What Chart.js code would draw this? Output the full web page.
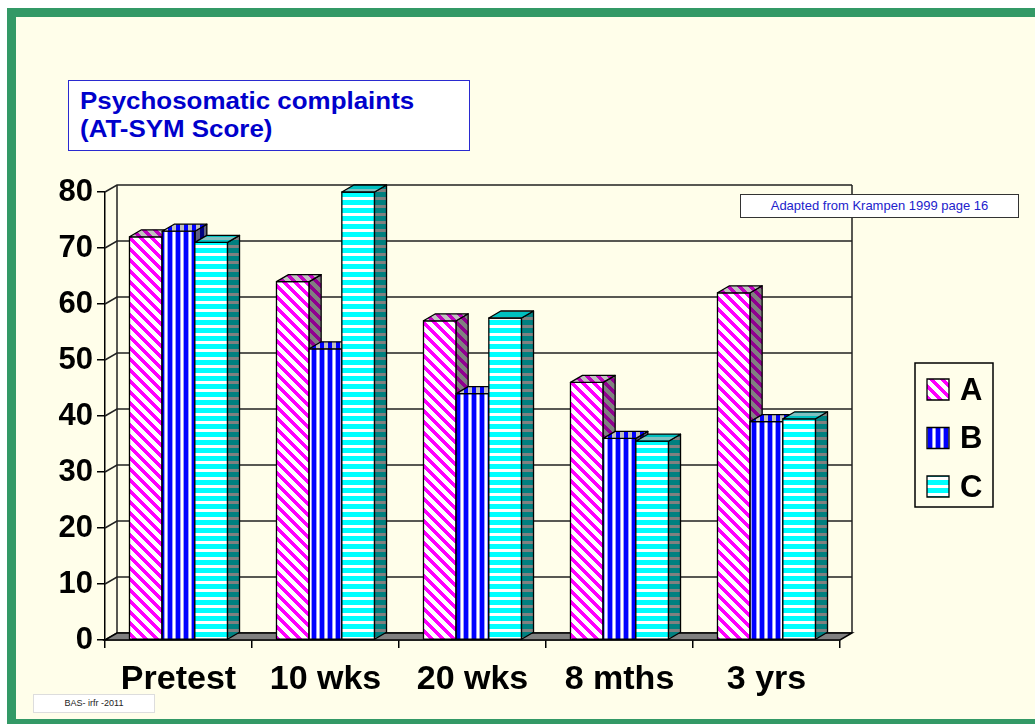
<!DOCTYPE html>
<html>
<head>
<meta charset="utf-8">
<script src="https://cdn.jsdelivr.net/npm/chart.js@4/dist/chart.umd.min.js"></script>
<style>
  html, body { margin: 0; padding: 0; background: #ffffff; overflow: hidden; }
  body { width: 1035px; height: 724px; position: relative; font-family: "Liberation Sans", Arial, sans-serif; }
  .slide {
    position: absolute; left: 7px; top: 8px; width: 1200px; height: 716px;
    box-sizing: border-box; border: solid #339966; border-width: 9px 9px 5px 9px;
    background: #fffeea;
  }
  #chart { position: absolute; left: 0; top: 0; }
  .title {
    position: absolute; left: 68px; top: 80px; width: 402px; height: 71px;
    box-sizing: border-box; border: 1.5px solid #2a2ad0; background: #ffffff;
    padding: 6px 0 0 11px;
  }
  .title span {
    display: inline-block; color: #0000cc; font-weight: bold; font-size: 24px; line-height: 28px;
    transform: scaleX(1.08); transform-origin: left top; white-space: nowrap;
  }
  .note {
    position: absolute; left: 740px; top: 194px; width: 279px; height: 24px;
    box-sizing: border-box; border: 1px solid #333; background: #ffffff;
    color: #2222cc; font-size: 13px; line-height: 22px; text-align: center;
  }
  .sign {
    position: absolute; left: 33px; top: 694px; width: 122px; height: 19px;
    box-sizing: border-box; border: 1px solid #ddd; background: #ffffff;
    color: #222; font-size: 9px; line-height: 17px; text-align: center;
  }
</style>
</head>
<body>
<div class="slide"></div>
<canvas id="chart" width="1035" height="724"></canvas>
<div class="title"><span>Psychosomatic complaints<br>(AT-SYM Score)</span></div>
<div class="note">Adapted from Krampen 1999 page 16</div>
<div class="sign">BAS- irfr -2011</div>
<script>
const categories = ['Pretest', '10 wks', '20 wks', '8 mths', '3 yrs'];
const seriesNames = ['A', 'B', 'C'];
const valuesA = [72, 64, 57, 46, 62];
const valuesB = [73, 52, 44, 36, 39];
const valuesC = [71, 80, 57.5, 35.5, 39.5];
const yTicks = [0, 10, 20, 30, 40, 50, 60, 70, 80];

const canvas = document.getElementById('chart');
const ctx = canvas.getContext('2d');

// depth offset of the 3d look
const DX = 12, DY = -7;

// stripe patterns
function makePattern(kind, fg, bg, alt) {
  const P = kind === 'diag' ? 11 : 8;
  const c = document.createElement('canvas');
  c.width = P; c.height = P;
  const g = c.getContext('2d');
  g.fillStyle = bg;
  g.fillRect(0, 0, P, P);
  for (let y = 0; y < P; y++) {
    for (let x = 0; x < P; x++) {
      let col = null;
      if (kind === 'diag') {
        const k = ((x - y) % P + P) % P;
        if (k < 5) col = fg;
      } else if (kind === 'vert') {
        const k = x % P;
        if (k < 4) col = fg;
        else if (alt && (k === 4 || k === 7)) col = alt;
      } else {
        const k = y % P;
        if (k < 5) col = fg;
      }
      if (col) { g.fillStyle = col; g.fillRect(x, y, 1, 1); }
    }
  }
  return ctx.createPattern(c, 'repeat');
}

const faces = [
  { front: makePattern('diag', '#ff00ff', '#ffffff'),
    side: makePattern('diag', '#900090', '#808080'),
    top: makePattern('diag', '#c000c0', '#c0c0c0') },
  { front: makePattern('vert', '#0000ff', '#ffffff', '#9999ff'),
    side: makePattern('vert', '#000080', '#606080'),
    top: makePattern('vert', '#0000ff', '#c0c0c0') },
  { front: makePattern('horiz', '#00ffff', '#ffffff'),
    side: makePattern('horiz', '#008080', '#808080'),
    top: makePattern('horiz', '#00c0c0', '#80c0c0') }
];

function poly(c, pts, fill) {
  c.beginPath();
  c.moveTo(pts[0][0], pts[0][1]);
  for (let i = 1; i < pts.length; i++) c.lineTo(pts[i][0], pts[i][1]);
  c.closePath();
  c.fillStyle = fill;
  c.fill();
  c.stroke();
}

const wallPlugin = {
  id: 'wall3d',
  beforeDatasetsDraw(chart) {
    const c = chart.ctx;
    const a = chart.chartArea;
    const ys = chart.scales.y;
    c.save();
    c.strokeStyle = '#222';
    c.lineWidth = 1.5;
    yTicks.forEach(v => {
      const y = ys.getPixelForValue(v);
      c.beginPath();
      c.moveTo(a.left, y);
      c.lineTo(a.left + DX, y + DY);
      c.lineTo(a.right + DX, y + DY);
      c.stroke();
    });
    c.beginPath();
    c.moveTo(a.left + DX, a.top + DY);
    c.lineTo(a.left + DX, a.bottom + DY);
    c.moveTo(a.right + DX, a.top + DY);
    c.lineTo(a.right + DX, a.bottom + DY);
    c.stroke();
    // floor
    c.strokeStyle = '#000';
    poly(c, [[a.left, a.bottom], [a.right, a.bottom], [a.right + DX, a.bottom + DY], [a.left + DX, a.bottom + DY]], '#808080');
    c.restore();
  },
  afterDatasetsDraw(chart) {
    const c = chart.ctx;
    c.save();
    c.strokeStyle = '#000';
    c.lineWidth = 1.3;
    c.lineJoin = 'round';
    chart.data.datasets.forEach((ds, di) => {
      const meta = chart.getDatasetMeta(di);
      const f = faces[di];
      meta.data.forEach(el => {
        const p = el.getProps(['x', 'y', 'base', 'width'], true);
        const x0 = p.x - p.width / 2, x1 = p.x + p.width / 2;
        const yt = p.y, yb = p.base;
        poly(c, [[x0, yt], [x1, yt], [x1, yb], [x0, yb]], f.front);
        poly(c, [[x1, yt], [x1 + DX, yt + DY], [x1 + DX, yb + DY], [x1, yb]], f.side);
        poly(c, [[x0, yt], [x0 + DX, yt + DY], [x1 + DX, yt + DY], [x1, yt]], f.top);
      });
    });
    c.restore();
  },
  afterDraw(chart) {
    // legend box
    const c = chart.ctx;
    c.save();
    c.strokeStyle = '#000';
    c.lineWidth = 1.5;
    c.strokeRect(915, 363, 78, 144);
    c.lineWidth = 1.3;
    seriesNames.forEach((name, i) => {
      const y = 379 + i * 48.5;
      poly(c, [[927, y], [949, y], [949, y + 21], [927, y + 21]], faces[i].front);
      c.fillStyle = '#000';
      c.font = 'bold 31px "Liberation Sans", Arial, sans-serif';
      c.textBaseline = 'middle';
      c.textAlign = 'left';
      c.fillText(name, 960, y + 12);
    });
    c.restore();
  }
};

const valueSets = [valuesA, valuesB, valuesC];

new Chart(ctx, {
  type: 'bar',
  data: {
    labels: categories,
    datasets: seriesNames.map((name, i) => ({
      label: name,
      data: valueSets[i],
      backgroundColor: 'rgba(0,0,0,0)',
      borderWidth: 0,
      categoryPercentage: 0.667,
      barPercentage: 1
    }))
  },
  options: {
    responsive: false,
    animation: false,
    layout: { padding: { left: 0, top: 192, right: 195, bottom: 0 } },
    plugins: { legend: { display: false }, tooltip: { enabled: false } },
    scales: {
      x: {
        afterFit: s => { s.height = 84; },
        grid: { offset: true, drawOnChartArea: false, tickLength: 8, color: '#000', lineWidth: 1.5 },
        border: { display: true, color: '#000', width: 1.5 },
        ticks: {
          color: '#000', padding: 11,
          font: { family: '"Liberation Sans", Arial, sans-serif', size: 34, weight: 'bold' }
        }
      },
      y: {
        min: 0, max: 80,
        afterFit: s => { s.width = 105; },
        grid: { drawOnChartArea: false, tickLength: 8, color: '#000', lineWidth: 1.5 },
        border: { display: true, color: '#000', width: 1.5 },
        ticks: {
          stepSize: 10, color: '#000', padding: 4,
          font: { family: '"Liberation Sans", Arial, sans-serif', size: 31, weight: 'bold' }
        }
      }
    }
  },
  plugins: [wallPlugin]
});
</script>
</body>
</html>
